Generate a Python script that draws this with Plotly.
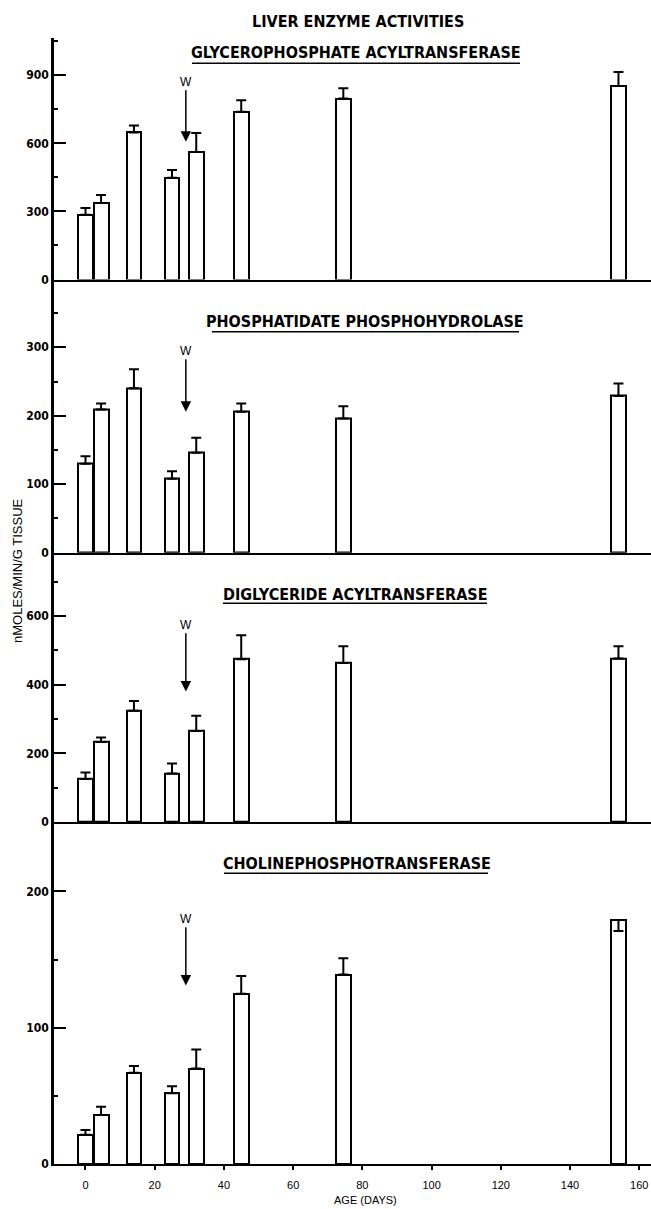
import plotly.graph_objects as go
from plotly.subplots import make_subplots

# ---------------- data ----------------
ages = [0, 4.5, 14, 25, 32, 45, 74.5, 154]

gpat_mean = [285, 337, 648, 448, 562, 739, 797, 853]
gpat_err_up = [30, 35, 30, 34, 83, 51, 46, 61]

pph_mean = [130, 209, 240, 108, 146, 206, 196, 229]
pph_err_up = [11, 9, 28, 11, 22, 12, 18, 18]

dgat_mean = [125, 233, 324, 141, 265, 474, 463, 476]
dgat_err_up = [19, 13, 28, 29, 44, 70, 49, 36]

cpt_mean = [21.5, 36, 67, 52, 70, 125, 139, 179]
cpt_err_up = [3.5, 6, 5, 5, 14, 13, 12, 0]
cpt_err_down = [0, 0, 0, 0, 0, 0, 0, 8]

panel_titles = ["GLYCEROPHOSPHATE ACYLTRANSFERASE", "PHOSPHATIDATE PHOSPHOHYDROLASE",
                "DIGLYCERIDE ACYLTRANSFERASE", "CHOLINEPHOSPHOTRANSFERASE"]
main_title = "LIVER ENZYME ACTIVITIES"
y_title = "nMOLES/MIN/G TISSUE"
x_title = "AGE (DAYS)"
weaning_day = 29
x_ticks = [0, 20, 40, 60, 80, 100, 120, 140, 160]

# ---------------- layout helpers ----------------
W, H = 651, 1209
PLOT_L, PLOT_T, PLOT_R, PLOT_B = 54, 38, 651, 1164   # plot area in pixels
ML, MT, MR, MB = PLOT_L, PLOT_T, W - PLOT_R, H - PLOT_B
PW, PH = PLOT_R - PLOT_L, PLOT_B - PLOT_T


def px_x(p):
    return (p - PLOT_L) / PW


def px_y(p):
    return (PLOT_B - p) / PH


row_px = [241.5, 273.2, 269.3, 342.0]
row_heights = [r / sum(row_px) for r in row_px]
y_ranges = [[0, 1064], [0, 399], [0, 784], [0, 251]]
y_dticks = [300, 100, 200, 100]
y_minor = [150, 50, 100, 50]

TITLE_FONT = dict(family="DejaVu Sans Condensed, Liberation Sans Narrow, Arial Narrow", size=16,
                  color="black", weight="bold")
TICK_FONT = dict(family="DejaVu Sans Condensed, Liberation Sans", size=12, color="black", weight="bold")
REG_FONT = dict(family="Liberation Sans, Arial", size=11, color="black")

fig = make_subplots(rows=4, cols=1, shared_xaxes=True, vertical_spacing=0, row_heights=row_heights)

series = [
    (gpat_mean, gpat_err_up, [0] * 8),
    (pph_mean, pph_err_up, [0] * 8),
    (dgat_mean, dgat_err_up, [0] * 8),
    (cpt_mean, cpt_err_up, cpt_err_down),
]

for i, (mean, up, down) in enumerate(series):
    fig.add_trace(
        go.Bar(
            x=ages, y=mean, width=4.3,
            marker=dict(color="white", line=dict(color="black", width=2)),
            error_y=dict(type="data", symmetric=False, array=up, arrayminus=down,
                         color="black", thickness=2, width=5),
            showlegend=False,
        ),
        row=i + 1, col=1,
    )

for i in range(4):
    fig.update_yaxes(
        row=i + 1, col=1, range=y_ranges[i], dtick=y_dticks[i], tick0=0, automargin=False,
        showline=True, linecolor="black", linewidth=2.5, showgrid=False, zeroline=False,
        ticks="inside", ticklen=12, tickwidth=2, tickcolor="black", tickfont=TICK_FONT,
        minor=dict(dtick=y_minor[i], tick0=0, ticks="inside", ticklen=4, tickwidth=2, tickcolor="black"),
    )
    fig.update_xaxes(
        row=i + 1, col=1, range=[-9.1, 163.4], showline=True, linecolor="black", linewidth=2,
        showgrid=False, zeroline=False, automargin=False,
        ticks="outside" if i == 3 else "", ticklen=4, tickwidth=1.5, tickcolor="black",
        tickvals=x_ticks, showticklabels=(i == 3), tickfont=REG_FONT, ticklabelstandoff=6,
    )

# panel titles with underlines
title_pos = [  # (center x px, center y px, underline x0, x1, underline y)
    (356, 52.5, 192, 520, 63.3),
    (365, 321.7, 212, 519, 331.7),
    (355, 594.3, 223, 487, 603.3),
    (357, 863.3, 224, 488, 873.3),
]
for t, (cx, cy, ux0, ux1, uy) in zip(panel_titles, title_pos):
    fig.add_annotation(text=t, xref="paper", yref="paper", x=px_x(cx), y=px_y(cy),
                       showarrow=False, font=TITLE_FONT, xanchor="center", yanchor="middle")
    fig.add_shape(type="line", xref="paper", yref="paper", x0=px_x(ux0), x1=px_x(ux1),
                  y0=px_y(uy), y1=px_y(uy), line=dict(color="black", width=1.5))

fig.add_annotation(text=main_title, xref="paper", yref="paper", x=px_x(358), y=px_y(21),
                   showarrow=False, font=TITLE_FONT, xanchor="center", yanchor="middle")

# weaning arrows (W)
arrow_vals = [(607, 871), (206, 295), (380, 574), (131, 180)]  # (tip, label) in data units
for i, (tip, lab) in enumerate(arrow_vals):
    xa = "x" if i == 0 else f"x{i + 1}"
    ya = "y" if i == 0 else f"y{i + 1}"
    fig.add_annotation(text="W", x=weaning_day, y=tip, ax=weaning_day, ay=lab,
                       xref=xa, yref=ya, axref=xa, ayref=ya,
                       showarrow=True, arrowhead=2, arrowsize=1.4, arrowwidth=1.5,
                       arrowcolor="black", font=dict(family="Liberation Sans, Arial", size=12, color="black"))

fig.add_annotation(text=y_title, xref="paper", yref="paper", x=px_x(17), y=px_y(571),
                   textangle=-90, showarrow=False, font=dict(family="Liberation Sans, Arial", size=13, color="black"),
                   xanchor="center", yanchor="middle")
fig.add_annotation(text=x_title, xref="paper", yref="paper", x=px_x(365), y=px_y(1200),
                   showarrow=False, font=REG_FONT, xanchor="center", yanchor="middle")

fig.update_layout(
    width=W, height=H, margin=dict(l=ML, r=MR, t=MT, b=MB, autoexpand=False),
    paper_bgcolor="white", plot_bgcolor="white", template="none",
    bargap=0, showlegend=False,
)

fig.write_html("out.html", config={"displayModeBar": False},
               post_script="document.body.style.margin='0';document.body.style.overflow='hidden';")
